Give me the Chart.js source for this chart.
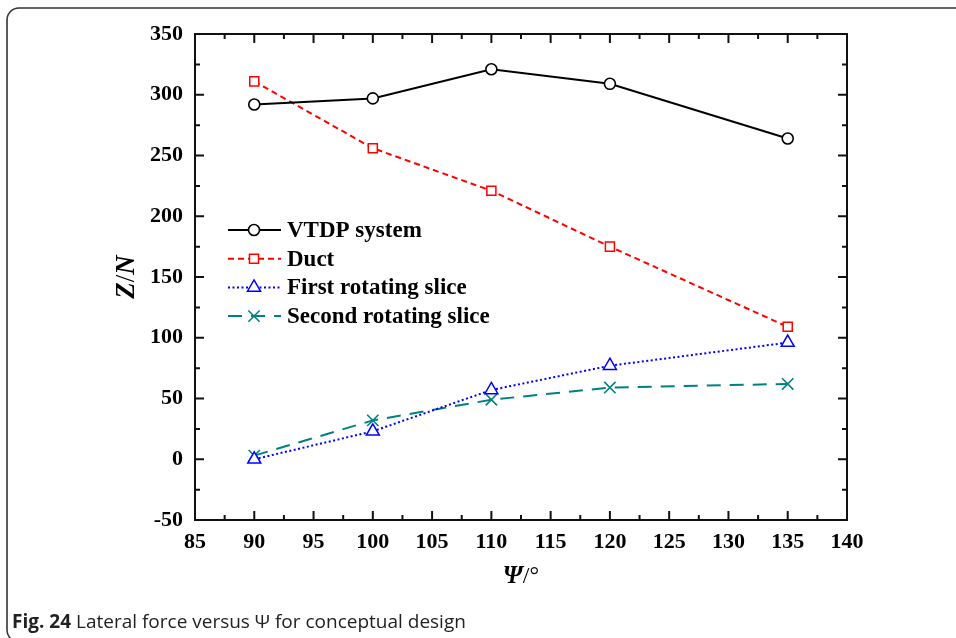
<!DOCTYPE html>
<html>
<head>
<meta charset="utf-8">
<script src="https://cdn.jsdelivr.net/npm/chart.js@4.4.0/dist/chart.umd.min.js"></script>
<style>
    html, body { margin: 0; padding: 0; background: #fff; overflow: hidden; }
    #wrap { width: 956px; height: 638px; position: relative; }
</style>
</head>
<body>
<div id="wrap"><canvas id="lineChart"></canvas></div>
<script>
// values (lateral force Z in N vs. angle psi in degrees)
var psi = [90, 100, 110, 120, 135];
var vtdp = [292, 297, 321, 309, 264];
var duct = [311, 256, 221, 175, 109];
var firstSlice = [0, 23, 57, 77, 96];
var secondSlice = [3, 32, 49, 59, 62];

var seriesNames = ['VTDP system', 'Duct', 'First rotating slice', 'Second rotating slice'];
var xTicks = [85, 90, 95, 100, 105, 110, 115, 120, 125, 130, 135, 140];
var yTicks = [-50, 0, 50, 100, 150, 200, 250, 300, 350];

function pts(ys) {
    return psi.map(function (x, i) { return { x: x, y: ys[i] }; });
}

var serif = '"Liberation Serif", "Times New Roman", serif';

// axes box, inward ticks, legend, axis titles, caption and figure frame
var decorations = {
    id: 'decorations',
    afterDraw: function (chart) {
        var ctx = chart.ctx, a = chart.chartArea;
        var xs = chart.scales.x, ys = chart.scales.y;
        ctx.save();

        // box
        ctx.strokeStyle = '#111';
        ctx.lineWidth = 2;
        ctx.setLineDash([]);
        ctx.strokeRect(a.left, a.top, a.right - a.left, a.bottom - a.top);

        // ticks (major + minor), mirrored on top and right
        ctx.beginPath();
        xTicks.forEach(function (v, i) {
            var px = xs.getPixelForValue(v);
            ctx.moveTo(px, a.bottom); ctx.lineTo(px, a.bottom - 9);
            ctx.moveTo(px, a.top); ctx.lineTo(px, a.top + 9);
            if (i < xTicks.length - 1) {
                var m = xs.getPixelForValue((v + xTicks[i + 1]) / 2);
                ctx.moveTo(m, a.bottom); ctx.lineTo(m, a.bottom - 5);
                ctx.moveTo(m, a.top); ctx.lineTo(m, a.top + 5);
            }
        });
        yTicks.forEach(function (v, i) {
            var py = ys.getPixelForValue(v);
            ctx.moveTo(a.left, py); ctx.lineTo(a.left + 9, py);
            ctx.moveTo(a.right, py); ctx.lineTo(a.right - 9, py);
            if (i < yTicks.length - 1) {
                var m = ys.getPixelForValue((v + yTicks[i + 1]) / 2);
                ctx.moveTo(a.left, m); ctx.lineTo(a.left + 5, m);
                ctx.moveTo(a.right, m); ctx.lineTo(a.right - 5, m);
            }
        });
        ctx.stroke();

        // legend
        chart.data.datasets.forEach(function (ds, i) {
            var y = 230 + i * 28.7;
            ctx.strokeStyle = ds.borderColor;
            ctx.lineWidth = ds.borderWidth;
            ctx.setLineDash(ds.borderDash || []);
            ctx.beginPath();
            ctx.moveTo(228, y); ctx.lineTo(281, y);
            ctx.stroke();
            ctx.setLineDash([]);
            ctx.fillStyle = ds.pointBackgroundColor;
            ctx.strokeStyle = ds.pointBorderColor;
            ctx.lineWidth = ds.pointBorderWidth;
            Chart.helpers.drawPoint(ctx, {
                pointStyle: ds.pointStyle, radius: ds.pointRadius,
                rotation: 0, borderWidth: ds.pointBorderWidth
            }, 254, y);
            ctx.fillStyle = '#000';
            ctx.font = 'bold 23px ' + serif;
            ctx.textAlign = 'left';
            ctx.textBaseline = 'middle';
            ctx.fillText(ds.label, 287, y + 1);
        });

        // x axis title  Psi/°
        ctx.fillStyle = '#000';
        ctx.textBaseline = 'alphabetic';
        ctx.textAlign = 'left';
        var f1 = 'bold italic 25px ' + serif, f2 = '24px ' + serif;
        ctx.font = f1; var w1 = ctx.measureText('\u03A8').width;
        ctx.font = f2; var w2 = ctx.measureText('/\u00B0').width;
        var x0 = (a.left + a.right) / 2 - (w1 + w2) / 2;
        ctx.font = f1; ctx.fillText('\u03A8', x0, 583);
        ctx.font = f2; ctx.fillText('/\u00B0', x0 + w1, 583);

        // y axis title  Z/N
        ctx.save();
        ctx.translate(134, (a.top + a.bottom) / 2);
        ctx.rotate(-Math.PI / 2);
        var g1 = 'bold italic 27px ' + serif, g2 = '27px ' + serif;
        ctx.font = g1; var wz = ctx.measureText('Z').width;
        ctx.font = g2; var ws = ctx.measureText('/').width;
        ctx.font = g1; var wn = ctx.measureText('N').width;
        var s0 = -(wz + ws + wn) / 2;
        ctx.font = g1; ctx.fillText('Z', s0, 0);
        ctx.font = g2; ctx.fillText('/', s0 + wz, 0);
        ctx.font = g1; ctx.fillText('N', s0 + wz + ws, 0);
        ctx.restore();

        // caption
        ctx.fillStyle = '#222';
        ctx.textBaseline = 'alphabetic';
        ctx.font = 'bold 19px "Open Sans", sans-serif';
        ctx.fillText('Fig. 24', 12, 628);
        var wb = ctx.measureText('Fig. 24 ').width;
        ctx.font = '19px "Open Sans", sans-serif';
        ctx.fillText('Lateral force versus \u03A8 for conceptual design', 12 + wb, 628);

        // figure frame
        ctx.strokeStyle = '#333';
        ctx.lineWidth = 1.6;
        ctx.beginPath();
        ctx.roundRect(7, 8, 1100, 634, 12);
        ctx.stroke();

        ctx.restore();
    }
};

var ctx = document.getElementById('lineChart').getContext('2d');

var lineChart = new Chart(ctx, {
    type: 'line',
    data: {
        datasets: [
            {
                label: seriesNames[0],
                data: pts(vtdp),
                borderColor: '#000000',
                borderWidth: 2,
                pointStyle: 'circle',
                pointRadius: 5.5,
                pointBackgroundColor: '#ffffff',
                pointBorderColor: '#000000',
                pointBorderWidth: 1.6
            },
            {
                label: seriesNames[1],
                data: pts(duct),
                borderColor: '#ff0000',
                borderWidth: 2,
                borderDash: [6, 4],
                pointStyle: 'rect',
                pointRadius: 6.4,
                pointBackgroundColor: '#ffffff',
                pointBorderColor: '#ff0000',
                pointBorderWidth: 1.5
            },
            {
                label: seriesNames[2],
                data: pts(firstSlice),
                borderColor: '#0000ff',
                borderWidth: 2,
                borderDash: [2, 2.5],
                pointStyle: 'triangle',
                pointRadius: 7.5,
                pointBackgroundColor: '#ffffff',
                pointBorderColor: '#0000ff',
                pointBorderWidth: 1.5
            },
            {
                label: seriesNames[3],
                data: pts(secondSlice),
                borderColor: '#008080',
                borderWidth: 2,
                borderDash: [14, 9],
                pointStyle: 'crossRot',
                pointRadius: 8,
                pointBackgroundColor: '#008080',
                pointBorderColor: '#008080',
                pointBorderWidth: 1.6
            }
        ]
    },
    options: {
        responsive: true,
        maintainAspectRatio: false,
        animation: false,
        layout: { padding: { top: 34, right: 109, left: 0, bottom: 0 } },
        plugins: {
            legend: { display: false },
            tooltip: { enabled: false }
        },
        elements: { line: { tension: 0 } },
        scales: {
            x: {
                type: 'linear',
                min: 85,
                max: 140,
                afterBuildTicks: function (s) { s.ticks = xTicks.map(function (v) { return { value: v }; }); },
                afterFit: function (s) { s.height = 118; },
                grid: { display: false, drawTicks: false },
                border: { display: false },
                ticks: {
                    color: '#000',
                    padding: 9,
                    autoSkip: false,
                    maxRotation: 0,
                    font: { family: serif, weight: 'bold', size: 22 }
                }
            },
            y: {
                type: 'linear',
                min: -50,
                max: 350,
                afterBuildTicks: function (s) { s.ticks = yTicks.map(function (v) { return { value: v }; }); },
                afterFit: function (s) { s.width = 195; },
                grid: { display: false, drawTicks: false },
                border: { display: false },
                ticks: {
                    color: '#000',
                    padding: 12,
                    autoSkip: false,
                    font: { family: serif, weight: 'bold', size: 22 }
                }
            }
        }
    },
    plugins: [decorations]
});
</script>
</body>
</html>
